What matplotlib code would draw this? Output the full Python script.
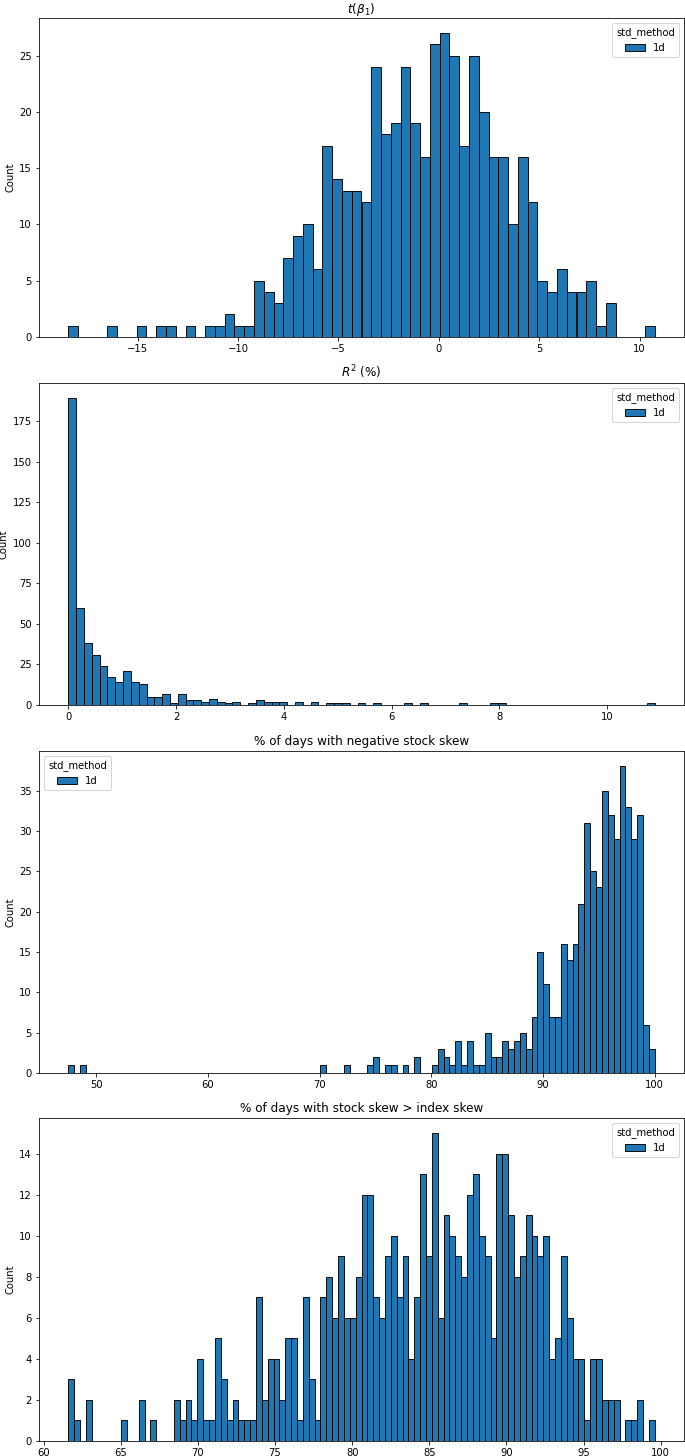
"""
Distribution of per-stock regression stats (std_method = 1d)
"""
import numpy as np
import matplotlib
matplotlib.use('Agg')
import matplotlib.pyplot as plt
from matplotlib.patches import Patch

# t-stat of beta_1: 60 bins
t_beta_lo, t_beta_hi = -18.45, 10.75
t_beta_counts = [1, 0, 0, 0, 1, 0, 0, 1, 0, 1, 1, 0, 1, 0, 1, 1, 2, 1, 1, 5,
                 4, 3, 7, 9, 10, 6, 17, 14, 13, 13, 12, 24, 18, 19, 24, 19, 16, 26, 27, 25,
                 17, 25, 20, 16, 16, 10, 16, 12, 5, 4, 6, 4, 4, 5, 1, 3, 0, 0, 0, 1]

# R^2 in %: 75 bins
r2_lo, r2_hi = 0.0, 10.88
r2_counts = [189, 60, 38, 31, 24, 17, 14, 21, 14, 13, 5, 5, 7, 1, 7, 3, 3, 2, 4, 2,
             1, 2, 0, 1, 3, 2, 2, 2, 0, 2, 0, 2, 0, 1, 1, 1, 0, 1, 0, 1,
             0, 0, 0, 1, 0, 1, 0, 0, 0, 0, 1, 0, 0, 0, 1, 1, 0, 0, 0, 0,
             0, 0, 0, 0, 0, 0, 0, 0, 0, 0, 0, 0, 0, 0, 1]

# % of days with negative stock skew: 100 bins
neg_skew_lo, neg_skew_hi = 47.49, 100.0
neg_skew_counts = [1, 0, 1] + [0] * 40 + [1, 0, 0, 0, 1, 0, 0, 0, 1, 2,
                   0, 1, 1, 0, 1, 0, 2, 0, 0, 1, 3, 2, 1, 4, 1, 4, 1, 1, 5, 2,
                   2, 4, 3, 4, 5, 3, 7, 15, 11, 7, 7, 16, 14, 16, 21, 31, 25, 23, 35, 32,
                   29, 38, 33, 29, 32, 6, 3]

# % of days with stock skew > index skew: 100 bins
rel_skew_lo, rel_skew_hi = 61.6, 99.61
rel_skew_counts = [3, 1, 0, 2, 0, 0, 0, 0, 0, 1, 0, 0, 2, 0, 1, 0, 0, 0, 2, 1,
                   2, 1, 4, 1, 1, 5, 3, 1, 2, 1, 1, 1, 7, 2, 4, 4, 2, 5, 5, 1,
                   7, 3, 1, 7, 8, 6, 9, 6, 6, 8, 12, 12, 7, 6, 9, 10, 7, 9, 4, 7,
                   13, 9, 15, 6, 11, 10, 9, 8, 12, 13, 10, 9, 5, 14, 14, 11, 8, 9, 11, 10,
                   9, 10, 4, 5, 9, 6, 4, 4, 1, 4, 4, 2, 2, 2, 0, 1, 1, 2, 0, 1]

panels = [
    (r'$t(\beta_1)$', t_beta_lo, t_beta_hi, t_beta_counts, 'upper right'),
    (r'$R^2$ (%)', r2_lo, r2_hi, r2_counts, 'upper right'),
    ('% of days with negative stock skew', neg_skew_lo, neg_skew_hi, neg_skew_counts, 'upper left'),
    ('% of days with stock skew > index skew', rel_skew_lo, rel_skew_hi, rel_skew_counts, 'upper right'),
]

# original figure was bigger and scaled down, so draw at 72 dpi
W, H = 685, 1456
DPI = 72
fig = plt.figure(figsize=(W / DPI, H / DPI), dpi=DPI)

# axes boxes in pixels: (top, bottom); first one nudged down so its title fits
boxes = [(18, 337), (383, 705), (751, 1073), (1118, 1441)]
left, right = 39, 684

color = '#1f77b4'
for i, ((title, lo, hi, counts, loc), (top, bottom)) in enumerate(zip(panels, boxes)):
    ax = fig.add_axes([left / W, (H - bottom) / H, (right - left) / W, (bottom - top) / H])
    edges = np.linspace(lo, hi, len(counts) + 1)
    ax.hist(edges[:-1], bins=edges, weights=counts, color=color,
            edgecolor='black', linewidth=0.9)
    ax.set_title(title, pad=1 if i == 0 else 6)
    ax.set_ylabel('Count')
    handles = [Patch(facecolor=color, edgecolor='black', linewidth=0.9, label='1d')]
    ax.legend(handles=handles, title='std_method', loc=loc)

fig.savefig('out.png', dpi=DPI)
